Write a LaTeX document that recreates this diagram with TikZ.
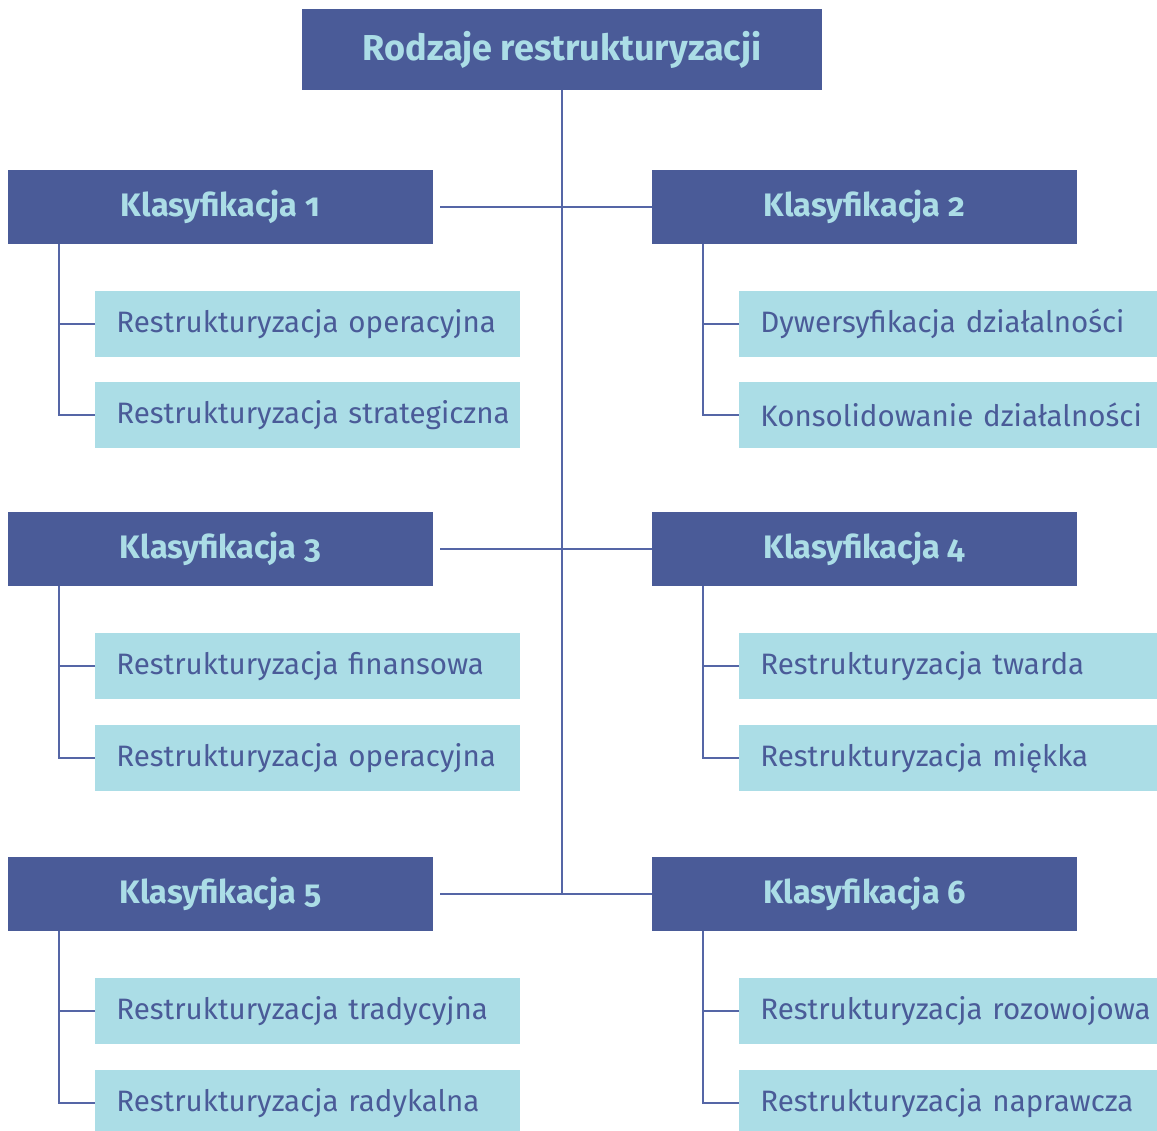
\documentclass[tikz,border=0pt]{standalone}
\usepackage{fontspec}
\setmainfont{Fira Sans}[Numbers=OldStyle]
\usepackage{tikz}

\definecolor{ciemny}{HTML}{4A5B98}
\definecolor{jasny}{HTML}{ABDDE6}
\definecolor{linia}{HTML}{5566A6}

\tikzset{
	tytul/.style={fill=ciemny,text=jasny,font=\fontsize{20.5}{24}\selectfont\bfseries,minimum width=10.4cm,minimum height=1.62cm,inner sep=0pt},
	klasa/.style={fill=ciemny,text=jasny,font=\fontsize{18.5}{22}\selectfont\bfseries,minimum width=8.5cm,minimum height=1.48cm,inner sep=0pt},
	rodzaj/.style={fill=jasny,text=ciemny,font=\fontsize{16.8}{20}\selectfont,minimum width=8.5cm,minimum height=1.32cm,inner xsep=0pt,text width=8.5cm,align=left,execute at begin node={\hspace*{0.42cm}}},
	galaz/.style={draw=linia,line width=0.8pt}
}

\begin{document}
\begin{tikzpicture}[x=0.02cm,y=-0.02cm]
	\useasboundingbox (0,0) rectangle (1157,1131);
	\node[tytul] (tytul) at (562,49.5) {Rodzaje restrukturyzacji};
	\node[klasa] (k1) at (220.5,207) {Klasyfikacja 1};
	\node[klasa] (k2) at (864.5,207) {Klasyfikacja 2};
	\node[klasa] (k3) at (220.5,549) {Klasyfikacja 3};
	\node[klasa] (k4) at (864.5,549) {Klasyfikacja 4};
	\node[klasa] (k5) at (220.5,894) {Klasyfikacja 5};
	\node[klasa] (k6) at (864.5,894) {Klasyfikacja 6};
	\node[rodzaj,anchor=west] (r1a) at (95,324) {Restrukturyzacja operacyjna};
	\node[rodzaj,anchor=west] (r1b) at (95,415) {Restrukturyzacja strategiczna};
	\node[rodzaj,anchor=west] (r2a) at (739,324) {Dywersyfikacja działalności};
	\node[rodzaj,anchor=west] (r2b) at (739,415) {Konsolidowanie działalności};
	\node[rodzaj,anchor=west] (r3a) at (95,666) {Restrukturyzacja finansowa};
	\node[rodzaj,anchor=west] (r3b) at (95,758) {Restrukturyzacja operacyjna};
	\node[rodzaj,anchor=west] (r4a) at (739,666) {Restrukturyzacja twarda};
	\node[rodzaj,anchor=west] (r4b) at (739,758) {Restrukturyzacja miękka};
	\node[rodzaj,anchor=west] (r5a) at (95,1011) {Restrukturyzacja tradycyjna};
	\node[rodzaj,anchor=west] (r5b) at (95,1103) {Restrukturyzacja radykalna};
	\node[rodzaj,anchor=west] (r6a) at (739,1011) {Restrukturyzacja rozowojowa};
	\node[rodzaj,anchor=west] (r6b) at (739,1103) {Restrukturyzacja naprawcza};
	% pien i poziome polaczenia
	\draw[galaz] (tytul.south) -- (tytul.south |- k5.east);
	\draw[galaz] ([xshift=0.14cm]k1.east) -- (k2.west);
	\draw[galaz] ([xshift=0.14cm]k3.east) -- (k4.west);
	\draw[galaz] ([xshift=0.14cm]k5.east) -- (k6.west);
	% galezie do rodzajow
	\foreach \k in {1,...,6}{
		\draw[galaz] ([xshift=1.03cm]k\k.south west) |- (r\k b.west);
		\draw[galaz] (r\k a.west) -- ++(-0.72cm,0);
	}
\end{tikzpicture}
\end{document}
